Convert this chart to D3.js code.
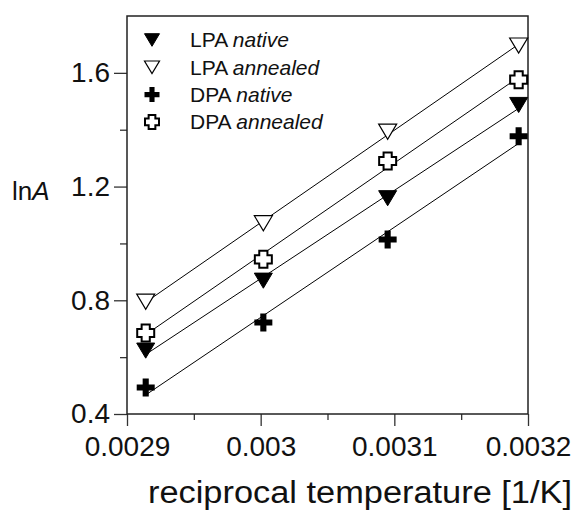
<!DOCTYPE html>
<html>
<head>
<meta charset="utf-8">
<script src="https://cdn.jsdelivr.net/npm/d3@7"></script>
<style>
  body { margin: 0; background: #fff; }
  svg { display: block; font-family: "Liberation Sans", Arial, sans-serif; }
</style>
</head>
<body>
<script>
// reciprocal temperature, 1/K
const xValues = [0.002914, 0.003002, 0.003095, 0.003193];

const lpaNative = [0.623, 0.869, 1.159, 1.487];
const lpaAnnealed = [0.795, 1.071, 1.393, 1.696];
const dpaNative = [0.493, 0.722, 1.014, 1.377];
const dpaAnnealed = [0.685, 0.944, 1.290, 1.576];

const xTicks = [0.0029, 0.003, 0.0031, 0.0032];
const xMinorTicks = [0.00295, 0.00305, 0.00315];
const yTicks = [0.4, 0.8, 1.2, 1.6];
const yMinorTicks = [0.6, 1.0, 1.4];

const seriesList = [
  {name: 'LPA', state: 'native', values: lpaNative, symbol: 'triangle', filled: true},
  {name: 'LPA', state: 'annealed', values: lpaAnnealed, symbol: 'triangle', filled: false},
  {name: 'DPA', state: 'native', values: dpaNative, symbol: 'plus', filled: true},
  {name: 'DPA', state: 'annealed', values: dpaAnnealed, symbol: 'plus', filled: false}
];

const width = 578;
const height = 511;
const margin = {top: 16, right: 50, bottom: 97, left: 127};
const plotWidth = width - margin.left - margin.right;
const plotHeight = height - margin.top - margin.bottom;

const svg = d3.select('body').append('svg')
    .attr('width', width)
    .attr('height', height);

const xScale = d3.scaleLinear()
    .domain([0.0029, 0.0032])
    .range([0, plotWidth]);

const yScale = d3.scaleLinear()
    .domain([0.4, 1.8])
    .range([plotHeight, 0]);

const container = svg.append('g')
    .attr('transform', `translate(${margin.left},${margin.top})`);

// marker shapes
function markerPath(symbol, size, arm) {
  const h = size / 2;
  if (symbol === 'triangle') {
    const t = size * 0.42;
    return `M${-h},${-t}L${h},${-t}L0,${t}Z`;
  }
  const a = size * arm;
  return `M${-a},${-h}H${a}V${-a}H${h}V${a}H${a}V${h}H${-a}V${a}H${-h}V${-a}H${-a}Z`;
}

function drawMarker(g, s, size) {
  const open = !s.filled;
  const isPlus = s.symbol === 'plus';
  g.append('path')
      .attr('d', markerPath(s.symbol, open && isPlus ? size - 1 : size, open ? 0.24 : 0.17))
      .attr('fill', s.filled ? '#000' : '#fff')
      .attr('stroke', '#000')
      .attr('stroke-width', open ? (isPlus ? 2 : 1.2) : (isPlus ? 0 : 1))
      .attr('stroke-linejoin', 'miter');
}

// axes
const yAxis = d3.axisLeft(yScale).tickValues(yTicks).tickSize(13).tickPadding(4)
    .tickFormat(d3.format('.1f'));
const yAxisMinor = d3.axisLeft(yScale).tickValues(yMinorTicks).tickSize(7).tickFormat('');
const xAxis = d3.axisBottom(xScale).tickValues(xTicks).tickSize(12).tickPadding(10)
    .tickFormat(d => String(d));
const xAxisMinor = d3.axisBottom(xScale).tickValues(xMinorTicks).tickSize(6).tickFormat('');

function styleAxis(g) {
  g.select('.domain').remove();
  g.selectAll('line').attr('stroke', '#333').attr('stroke-width', 1.3);
  g.selectAll('text').attr('font-family', '"Liberation Sans", Arial, sans-serif')
      .attr('font-size', 28).attr('fill', '#111');
}

container.append('g').call(yAxis).call(styleAxis);
container.append('g').call(yAxisMinor).call(styleAxis);
container.append('g').attr('transform', `translate(0,${plotHeight})`).call(xAxis).call(styleAxis);
container.append('g').attr('transform', `translate(0,${plotHeight})`).call(xAxisMinor).call(styleAxis);

// frame
container.append('rect')
    .attr('width', plotWidth)
    .attr('height', plotHeight)
    .attr('fill', 'none')
    .attr('stroke', '#222')
    .attr('stroke-width', 1.5);

// linear fits
function fit(xs, ys) {
  const mx = d3.mean(xs), my = d3.mean(ys);
  const sxy = d3.sum(xs, (x, i) => (x - mx) * (ys[i] - my));
  const sxx = d3.sum(xs, x => (x - mx) * (x - mx));
  const slope = sxy / sxx;
  return x => my + slope * (x - mx);
}

const linesContainer = container.append('g');
seriesList.forEach(s => {
  const f = fit(xValues, s.values);
  const ends = d3.extent(xValues);
  linesContainer.append('line')
      .attr('x1', xScale(ends[0]))
      .attr('y1', yScale(f(ends[0])))
      .attr('x2', xScale(ends[1]))
      .attr('y2', yScale(f(ends[1])))
      .attr('stroke', '#000')
      .attr('stroke-width', 1);
});

// points
seriesList.forEach(s => {
  s.values.forEach((v, i) => {
    const g = container.append('g')
        .attr('transform', `translate(${xScale(xValues[i])},${yScale(v)})`);
    drawMarker(g, s, 18);
  });
});

// legend
const legend = container.append('g')
    .attr('transform', 'translate(25,24)');
seriesList.forEach((s, i) => {
  const row = legend.append('g').attr('transform', `translate(0,${i * 27.3})`);
  drawMarker(row, s, 15);
  const t = row.append('text')
      .attr('x', 38)
      .attr('dy', '0.35em')
      .attr('font-size', 21)
      .attr('fill', '#111');
  t.append('tspan').text(s.name + ' ');
  t.append('tspan').attr('font-style', 'italic').text(s.state);
});

// axis titles
svg.append('text')
    .attr('x', 360)
    .attr('y', 503)
    .attr('text-anchor', 'middle')
    .attr('font-size', 31)
    .attr('textLength', 424)
    .attr('lengthAdjust', 'spacingAndGlyphs')
    .attr('fill', '#111')
    .text('reciprocal temperature [1/K]');

const yTitle = svg.append('text')
    .attr('x', 12)
    .attr('y', 200)
    .attr('font-size', 26)
    .attr('fill', '#111');
yTitle.append('tspan').text('ln');
yTitle.append('tspan').attr('font-style', 'italic').text('A');
</script>
</body>
</html>
